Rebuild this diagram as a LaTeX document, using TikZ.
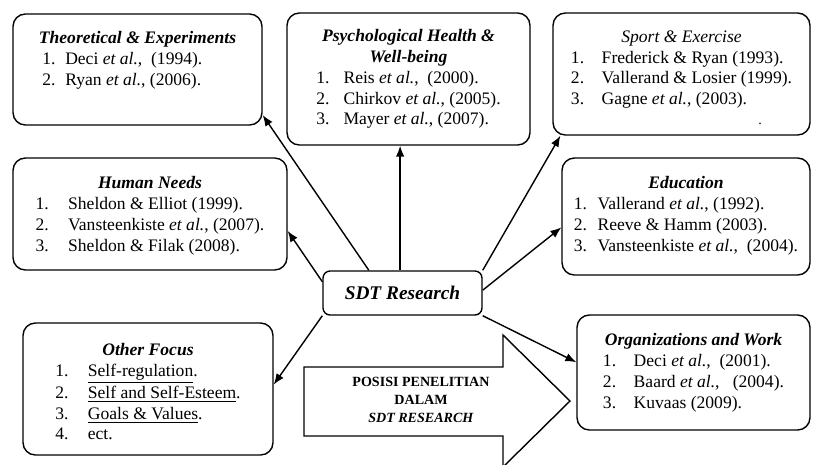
\documentclass[tikz,border=0pt]{standalone}
\usepackage{fontspec}
\setmainfont{Liberation Serif}
\usetikzlibrary{arrows.meta}
\tikzset{
  topic/.style={draw, rectangle, rounded corners=7pt, line width=0.8pt},
  core/.style={draw, rectangle, rounded corners=4pt, line width=0.8pt, minimum width=3.18cm, minimum height=0.88cm, font=\bfseries\itshape\fontsize{11}{13}\selectfont},
  reftext/.style={inner sep=0pt, anchor=north, align=center, font=\fontsize{10}{11.8}\selectfont},
  line/.style={-{Latex[length=2.2mm,width=1.7mm]}, line width=0.8pt},
  bigarrow/.style={draw, line width=0.8pt}
}
\newcommand{\ttl}[1]{\textbf{\textit{#1}}}
\newcommand{\etal}{\textit{et al.}}
\newcommand{\reflist}[2][8pt]{\begin{tabular}[t]{@{}l@{\hspace{#1}}l@{}}#2\end{tabular}}

\begin{document}
\begin{tikzpicture}[x=0.02cm, y=-0.02cm]
    \useasboundingbox (0,0) rectangle (815,464);

    % boxes
    \node[topic, minimum width=4.98cm, minimum height=2.22cm] (theo) at (137.5,69.5) {};
    \node[topic, minimum width=4.86cm, minimum height=2.64cm] (psych) at (408.5,79) {};
    \node[topic, minimum width=5.14cm, minimum height=2.44cm] (sport) at (681.5,74) {};
    \node[topic, minimum width=5.48cm, minimum height=2.24cm] (human) at (150,214) {};
    \node[topic, minimum width=4.96cm, minimum height=2.34cm] (edu) at (686,216.5) {};
    \node[topic, minimum width=5.00cm, minimum height=2.64cm] (other) at (148,389) {};
    \node[topic, minimum width=4.66cm, minimum height=2.30cm] (org) at (693.5,372.5) {};
    \node[core] (sdt) at (402.5,293) {SDT Research\hspace{6pt}};

    % box texts
    \node[reftext, align=left] (theo-txt) at ([yshift=-0.36cm]theo.north) {\ttl{Theoretical \& Experiments}\\
      \hspace{2pt}\reflist[5.5pt]{1. & Deci \etal, \ (1994).\\ 2. & Ryan \etal, (2006).}};
    \node[reftext] (psych-txt) at ([yshift=-0.34cm]psych.north) {\ttl{Psychological Health \&}\\ \ttl{Well-being}\\
      \reflist{1. & Reis \etal, \ (2000).\\ 2. & Chirkov \etal, (2005).\\ 3. & Mayer \etal, (2007).}};
    \node[reftext] (sport-txt) at ([yshift=-0.36cm]sport.north) {\textit{Sport \& Exercise}\\
      \reflist[10pt]{1. & Frederick \& Ryan (1993).\\ 2. & Vallerand \& Losier (1999).\\ 3. & Gagne \etal, (2003).}};
    \node[font=\footnotesize] (sport-dot) at (760,124) {.};
    \node[reftext] (human-txt) at ([yshift=-0.38cm]human.north) {\ttl{Human Needs}\\
      \reflist[11pt]{1. & Sheldon \& Elliot (1999).\\ 2. & Vansteenkiste \etal, (2007).\\ 3. & Sheldon \& Filak (2008).}};
    \node[reftext] (edu-txt) at ([yshift=-0.38cm]edu.north) {\ttl{Education}\\
      \reflist[6pt]{1. & Vallerand \etal, (1992).\\ 2. & Reeve \& Hamm (2003).\\ 3. & Vansteenkiste \etal, \ (2004).}};
    \node[reftext] (other-txt) at ([yshift=-0.42cm]other.north) {\ttl{Other Focus}\\
      \reflist[11pt]{1. & \underline{Self-regulation}.\\ 2. & \underline{Self and Self-Esteem}.\\ 3. & \underline{Goals \& Values}.\\ 4. & ect.}};
    \node[reftext] (org-txt) at ([yshift=-0.38cm]org.north) {\ttl{Organizations and Work}\\
      \reflist[10pt]{1. & Deci \etal, \ (2001).\\ 2. & Baard \etal, \ \ (2004).\\ 3. & Kuvaas (2009).}};

    % big arrow
    \begin{scope}
      \clip (0,0) rectangle (815,464);
      \draw[bigarrow] (304,367) -- (503,367) -- (503,335) -- (570,401) -- (503,467) -- (503,436) -- (304,436) -- cycle;
    \end{scope}
    \node[font=\bfseries\fontsize{8}{10.2}\selectfont, align=center] (posisi) at (421,400) {POSISI PENELITIAN\\DALAM\\\textit{SDT RESEARCH}};

    % connectors
    \draw[line] (sdt.146) -- (theo.-20);
    \draw[line] (sdt.96) -- (sdt.96 |- psych.south);
    \draw[line] (sdt.north east) -- (sport.207);
    \draw[line] (sdt.172) -- (human.-7);
    \draw[line] (sdt.2) -- (edu.185);
    \draw[line] (sdt.south east) -- (org.175);
    \draw[line] (sdt.south west) -- (other.2);
\end{tikzpicture}
\end{document}
